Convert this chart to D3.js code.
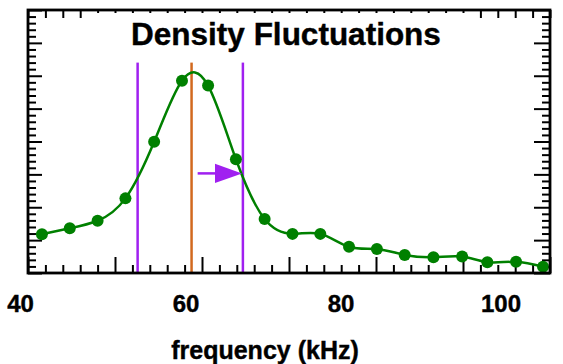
<!DOCTYPE html>
<html>
<head>
<meta charset="utf-8">
<script src="https://cdn.jsdelivr.net/npm/d3@7"></script>
<style>
  html, body { margin: 0; padding: 0; background: #fff; }
  svg { display: block; }
  text { font-family: "Liberation Sans", Arial, Helvetica, sans-serif; font-weight: bold; fill: #000; stroke: #000; stroke-width: 0.4; }
</style>
</head>
<body>
<svg id="chart" width="563" height="364"></svg>
<script>
// ---- data ----
const freq    = [41.6, 44.8, 48.0, 51.2, 54.5, 57.7, 60.7, 63.9, 67.2, 70.4, 73.6, 76.9, 80.1, 83.3, 86.6, 89.9, 92.8, 96.1, 99.2];
const density = [1.18, 1.36, 1.59, 2.27, 3.99, 5.85, 5.70, 3.46, 1.64, 1.19, 1.19, 0.80, 0.73, 0.55, 0.48, 0.50, 0.33, 0.34, 0.19];
const xTickLabels = [40, 60, 80, 100];
const boundLines = [52.6, 64.7];     // purple
const centerLine = [58.8];           // orange
const lineTop = 6.4;
const arrow = {from: 59.5, to: 64.6, y: 3.03};
const title = "Density Fluctuations";
const xTitle = "frequency (kHz)";

// ---- layout ----
const L = 28, R = 550, T = 10, B = 273;
const svg = d3.select("#chart");
const x = d3.scaleLinear().domain([40, 100]).range([L, R]);
const y = d3.scaleLinear().domain([0, 8]).range([B, T]);
// label placement scale (labels in reference are not aligned with ticks)
const xl = d3.scaleLinear().domain([40, 60, 80, 100]).range([20.5, 186, 341, 501]);

const majorX = d3.range(40, 100.01, 10);
const minorX = d3.range(40, 100.01, 2).filter(v => v % 10 !== 0);
const majorY = d3.range(0, 8.01, 1);
const minorY = d3.range(0, 8.01, 0.2).filter(v => Math.abs(v - Math.round(v)) > 1e-6);

function tickAxis(axisFn, scale, values, size, tx, ty) {
  const g = svg.append("g").attr("transform", `translate(${tx},${ty})`)
    .call(axisFn(scale).tickValues(values).tickSize(size).tickFormat(""));
  g.select(".domain").remove();
  g.selectAll(".tick line").attr("stroke", "#000").attr("stroke-width", 2);
  return g;
}
// bottom (ticks pointing up)
tickAxis(d3.axisTop, x, majorX, 16, 0, B);
tickAxis(d3.axisTop, x, minorX, 8, 0, B);
// top (ticks pointing down)
tickAxis(d3.axisBottom, x, d3.range(40, 100.01, 2), 8, 0, T);
// left
tickAxis(d3.axisRight, y, majorY, 14, L, 0);
tickAxis(d3.axisRight, y, minorY, 8, L, 0);
// right
tickAxis(d3.axisLeft, y, majorY, 16, R, 0);
tickAxis(d3.axisLeft, y, minorY, 8, R, 0);

// title backdrop
svg.append("rect").attr("x", 88).attr("y", 13).attr("width", 388).attr("height", 45).attr("fill", "#fff");
svg.append("text").attr("x", 286).attr("y", 45).attr("text-anchor", "middle")
  .attr("font-size", 31.5).text(title);

// vertical lines
svg.selectAll("line.bound").data(boundLines).enter().append("line")
  .attr("x1", d => x(d)).attr("x2", d => x(d)).attr("y1", y(lineTop)).attr("y2", B)
  .attr("stroke", "#a020f0").attr("stroke-width", 2.5);
svg.selectAll("line.center").data(centerLine).enter().append("line")
  .attr("x1", d => x(d)).attr("x2", d => x(d)).attr("y1", y(lineTop)).attr("y2", B)
  .attr("stroke", "#d2691e").attr("stroke-width", 2.5);

// data curve
const pts = freq.map((f, i) => [f, density[i]]);
svg.append("path").datum(pts)
  .attr("d", d3.line().x(d => x(d[0])).y(d => y(d[1])).curve(d3.curveNatural))
  .attr("fill", "none").attr("stroke", "#008000").attr("stroke-width", 2.5);
svg.selectAll("circle").data(pts).enter().append("circle")
  .attr("cx", d => x(d[0])).attr("cy", d => y(d[1])).attr("r", 6).attr("fill", "#008000");

// arrow
const ax0 = x(arrow.from), ax1 = x(arrow.to), ay = y(arrow.y);
const headL = 27, headH = 9.7;
svg.append("line").attr("x1", ax0).attr("x2", ax1 - headL + 1).attr("y1", ay).attr("y2", ay)
  .attr("stroke", "#a020f0").attr("stroke-width", 2.5);
svg.append("path")
  .attr("d", `M${ax1},${ay} L${ax1 - headL},${ay - headH} L${ax1 - headL},${ay + headH} Z`)
  .attr("fill", "#a020f0");

// frame
svg.append("rect").attr("x", L).attr("y", T).attr("width", R - L).attr("height", B - T)
  .attr("fill", "none").attr("stroke", "#000").attr("stroke-width", 2.8);

// x tick labels
svg.selectAll("text.xl").data(xTickLabels).enter().append("text")
  .attr("x", d => xl(d)).attr("y", 312).attr("text-anchor", "middle")
  .attr("font-size", 24).text(d => d);
svg.append("text").attr("x", 265).attr("y", 359).attr("text-anchor", "middle")
  .attr("font-size", 25).text(xTitle);
</script>
</body>
</html>
